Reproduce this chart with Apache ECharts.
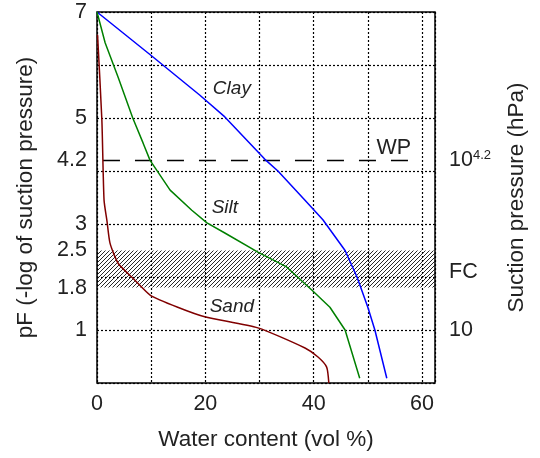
<!DOCTYPE html>
<html>
<head>
<meta charset="utf-8">
<script src="https://cdn.jsdelivr.net/npm/echarts@6/dist/echarts.min.js"></script>
<style>
  html, body { margin: 0; padding: 0; background: #fff; }
  #chart { width: 540px; height: 458px; }
</style>
</head>
<body>
<div id="chart"></div>
<script>
// retention curves: [water content (vol %), pF]
const clayData = [
  [0, 7], [10, 6.18], [19, 5.43], [23.6, 5.02], [31, 4.22], [33.4, 4.0], [38.4, 3.45],
  [41.7, 3.08], [45.8, 2.5], [48, 2.0], [50, 1.43], [51.3, 1.0], [53.5, 0.09]
];
const siltData = [
  [0, 7], [1.5, 6.42], [3.9, 5.77], [6.6, 5.0], [8.5, 4.53], [9.8, 4.2], [13.5, 3.64],
  [17.5, 3.26], [20.3, 3.02], [23.6, 2.83], [29.7, 2.47], [35, 2.19], [39.7, 1.75],
  [43, 1.43], [45.8, 1.0], [48.5, 0.09]
];
const sandData = [
  [0.1, 6.57], [0.9, 4.96], [1.3, 3.45], [1.85, 3.05], [2.4, 2.64], [3.9, 2.26], [7.0, 1.94],
  [9.8, 1.66], [14.9, 1.43], [19.9, 1.25], [29.7, 1.04], [38.4, 0.66], [40.8, 0.49],
  [42.4, 0.3], [42.8, 0]
];
const wpLine = [[1.1, 4.2], [58.1, 4.2]];
const fcBand = [1.8, 2.5];

const leftTicks = [1, 1.8, 2.5, 3, 4.2, 5, 7];
const rightTickValues = [1, 2.1, 4.2];
const rightTickLabels = ['10', 'FC', '10{sup|4.2}'];

const noteNames = ['Clay', 'Silt', 'Sand'];
const notePos = [[24.9, 5.55], [23.6, 3.3], [24.9, 1.43]];
const wpNote = [[54.8, 4.43]];

const textColor = '#222';

// diagonal hatch for the field-capacity band
function hatch() {
  const c = document.createElement('canvas');
  c.width = 4; c.height = 4;
  const ctx = c.getContext('2d');
  ctx.strokeStyle = '#111';
  ctx.lineWidth = 0.9;
  ctx.beginPath();
  ctx.moveTo(0, 4); ctx.lineTo(4, 0);
  ctx.moveTo(-1, 1); ctx.lineTo(1, -1);
  ctx.moveTo(3, 5); ctx.lineTo(5, 3);
  ctx.stroke();
  return c;
}

const chart = echarts.init(document.getElementById('chart'));

const dotted = { type: [2, 2], color: '#000', width: 1.2 };

chart.setOption({
  animation: false,
  textStyle: { fontFamily: 'Liberation Sans, Arial, sans-serif' },
  grid: {
    left: 97, right: 105, top: 12, bottom: 75,
    show: true, borderColor: '#000', borderWidth: 1.5, backgroundColor: 'transparent'
  },
  xAxis: {
    type: 'value', min: 0, max: 62.4, interval: 10,
    name: 'Water content (vol %)', nameLocation: 'middle', nameGap: 45,
    nameTextStyle: { fontSize: 22.5, color: textColor },
    axisLine: { show: false }, axisTick: { show: false },
    axisLabel: {
      fontSize: 21.5, color: textColor, margin: 10, showMaxLabel: false,
      formatter: v => (v % 20 === 0 ? String(v) : '')
    },
    splitLine: { show: true, lineStyle: dotted }
  },
  yAxis: [
    {
      type: 'value', min: 0, max: 7, interval: 1, position: 'left',
      name: 'pF (-log of suction pressure)', nameLocation: 'middle', nameGap: 60,
      nameTextStyle: { fontSize: 22.5, color: textColor },
      axisLine: { show: false }, axisTick: { show: false },
      axisLabel: { fontSize: 21.5, color: textColor, margin: 10, customValues: leftTicks },
      splitLine: { show: true, lineStyle: dotted }
    },
    {
      type: 'value', min: 0, max: 7, interval: 1, position: 'right',
      name: 'Suction pressure (hPa)', nameLocation: 'middle', nameGap: 70, nameRotate: 90,
      nameTextStyle: { fontSize: 22.5, color: textColor },
      axisLine: { show: false }, axisTick: { show: false },
      splitLine: { show: false },
      axisLabel: {
        fontSize: 21.5, color: textColor, margin: 14, customValues: rightTickValues,
        formatter: v => rightTickLabels[rightTickValues.indexOf(v)],
        rich: {
          sup: { fontSize: 13, color: textColor, verticalAlign: 'top', padding: [0, 0, 9, 0] }
        }
      }
    }
  ],
  series: [
    {
      name: 'FC', type: 'line', data: [], silent: true,
      markArea: {
        silent: true,
        itemStyle: { color: { image: hatch(), repeat: 'repeat' }, opacity: 1 },
        data: [[{ yAxis: fcBand[0] }, { yAxis: fcBand[1] }]]
      }
    },
    {
      name: 'WP', type: 'line', data: wpLine, showSymbol: false, silent: true,
      lineStyle: { color: '#000', width: 1.5, type: [17, 15] }
    },
    {
      name: 'Clay', type: 'line', data: clayData, showSymbol: false,
      lineStyle: { color: '#0000ff', width: 1.5 }
    },
    {
      name: 'Silt', type: 'line', data: siltData, showSymbol: false,
      lineStyle: { color: '#008000', width: 1.5 }
    },
    {
      name: 'Sand', type: 'line', data: sandData, showSymbol: false, smooth: 0.2,
      lineStyle: { color: '#800000', width: 1.5 }
    },
    {
      type: 'scatter', symbolSize: 0, silent: true,
      itemStyle: { opacity: 1 },
      data: notePos.map((p, i) => ({ value: p, name: noteNames[i] })),
      label: {
        show: true, position: 'inside', formatter: '{b}', opacity: 1,
        fontSize: 19, fontStyle: 'italic', color: textColor
      }
    },
    {
      type: 'scatter', symbolSize: 0, silent: true,
      itemStyle: { opacity: 1 },
      data: wpNote.map(p => ({ value: p, name: 'WP' })),
      label: {
        show: true, position: 'inside', formatter: '{b}', opacity: 1,
        fontSize: 21.5, color: textColor
      }
    }
  ]
});
</script>
</body>
</html>
